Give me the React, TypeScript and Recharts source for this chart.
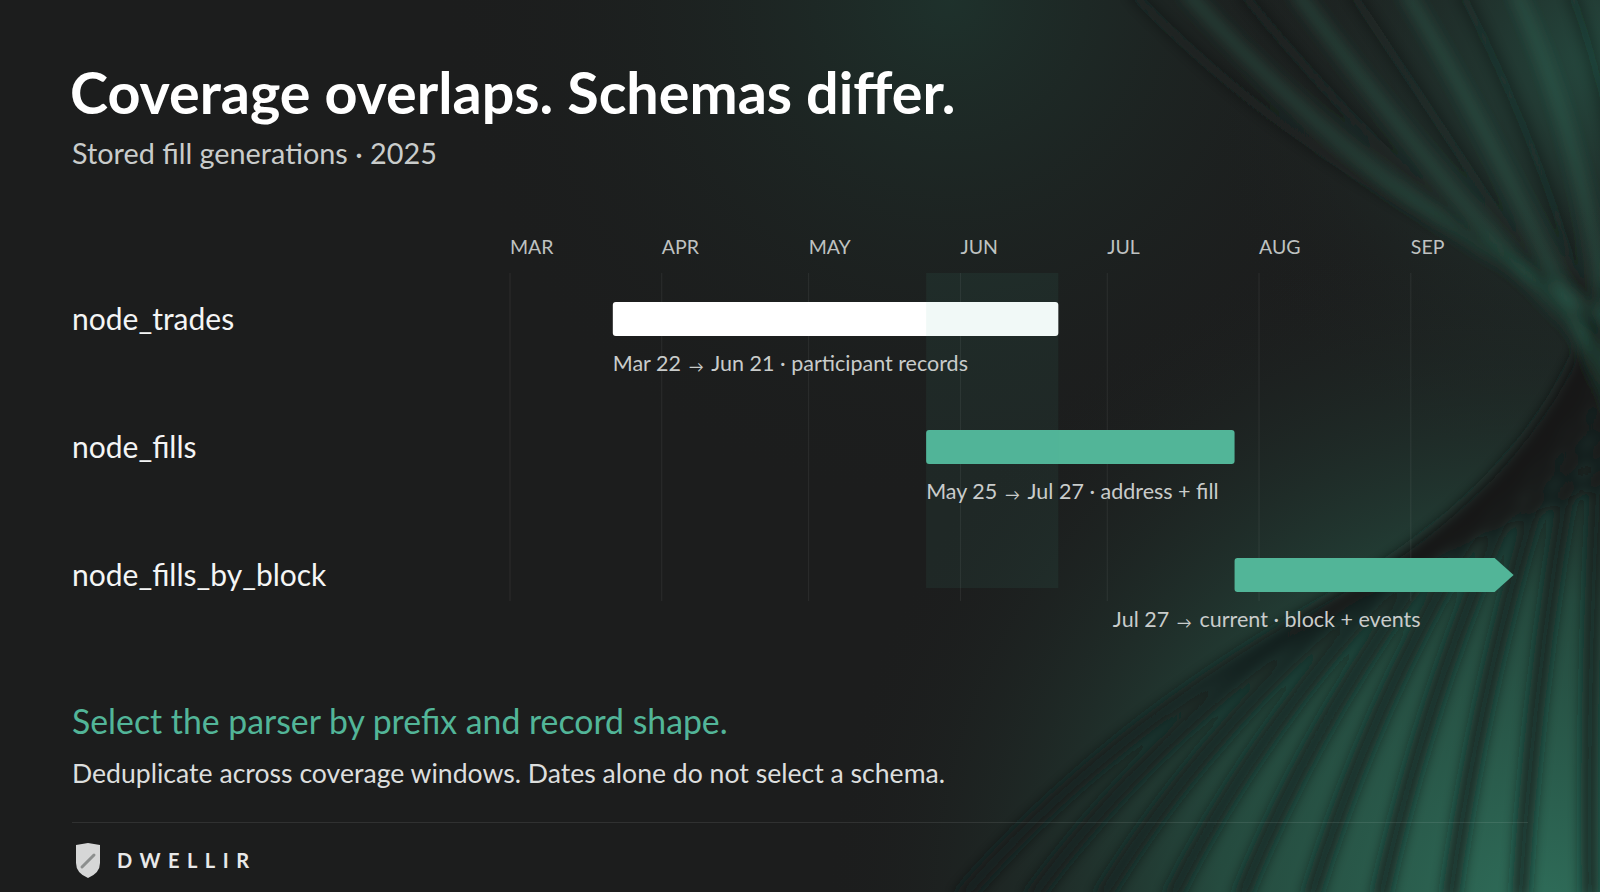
import React from "react";
import {
  BarChart,
  Bar,
  XAxis,
  YAxis,
  CartesianGrid,
  ReferenceArea,
  LabelList,
  Cell,
} from "recharts";

// day-of-year (0 = Jan 1, 2025)
const rowNames = ["node_trades", "node_fills", "node_fills_by_block"];
const startDays = [80, 144, 207]; // Mar 22, May 25, Jul 27
const endDays = [171, 207, 264]; // Jun 21, Jul 27, current
const fromLabels = ["Mar 22", "May 25", "Jul 27"];
const toLabels = ["Jun 21", "Jul 27", "current"];
const schemaNotes = ["participant records", "address + fill", "block + events"];
const ongoing = [false, false, true];
const barColors = ["#ffffff", "#52b598", "#52b598"];

const monthTicks = [59, 90, 120, 151, 181, 212, 243];
const monthLabels = ["MAR", "APR", "MAY", "JUN", "JUL", "AUG", "SEP"];

// overlap window: node_fills starts before node_trades ends
const overlapStart = 144;
const overlapEnd = 171;

const FONT = "Lato, 'Noto Sans', sans-serif";
const TEAL = "#52b598";

const data = rowNames.map((name, i) => ({
  name,
  range: [startDays[i], endDays[i]],
  from: fromLabels[i],
  to: toLabels[i],
  note: schemaNotes[i],
  ongoing: ongoing[i],
}));

const BarShape = (props: any) => {
  const { x, y, width, height, fill, payload } = props;
  const r = 3;
  if (payload && payload.ongoing) {
    const head = 19;
    const bodyEnd = x + width - head;
    const d = `M${x + r},${y} L${bodyEnd},${y} L${x + width},${y + height / 2} L${bodyEnd},${y + height} L${x + r},${y + height} Q${x},${y + height} ${x},${y + height - r} L${x},${y + r} Q${x},${y} ${x + r},${y} Z`;
    return <path d={d} fill={fill} />;
  }
  return <rect x={x} y={y} width={width} height={height} rx={r} ry={r} fill={fill} />;
};

const renderNote = (props: any) => {
  const { x, y, width, height, index } = props;
  const row = data[index];
  if (!row) return null;
  // the open-ended row is pulled back so its note stays inside the frame
  const tx = row.ongoing ? x + width - 93 : x;
  return (
    <text
      x={tx}
      y={y + height + 27}
      textAnchor={row.ongoing ? "end" : "start"}
      dominantBaseline="central"
      fill="#c9cccb"
      fontSize={21.5}
      fontFamily={FONT}
    >
      {row.from}
      <tspan fontSize={15} dy={3}>{"\u00a0\u00a0→\u00a0\u00a0"}</tspan>
      <tspan dy={-3}>{row.to} · {row.note}</tspan>
    </text>
  );
};

const MonthTick = (props: any) => {
  const { x, y, payload } = props;
  const i = monthTicks.indexOf(payload.value);
  if (i < 0) return null;
  return (
    <text
      x={x}
      y={y - 1}
      textAnchor="start"
      dominantBaseline="central"
      fill="#bfc2c1"
      fontSize={19.5}
      fontFamily={FONT}
    >
      {monthLabels[i]}
    </text>
  );
};

const RowTick = (props: any) => {
  const { y, payload } = props;
  return (
    <text
      x={72}
      y={y - 1}
      textAnchor="start"
      dominantBaseline="central"
      fill="#f4f5f5"
      fontSize={30}
      fontFamily={FONT}
    >
      {payload.value}
    </text>
  );
};

const GridLine = (props: any) => {
  const { x1, x2, y1, y2, index } = props;
  if (index >= monthTicks.length) return null;
  return (
    <line
      x1={x1}
      x2={x2}
      y1={y1 + 18}
      y2={y2 - 38}
      stroke="rgba(255,255,255,0.07)"
      strokeWidth={1}
    />
  );
};

const OverlapShape = (props: any) => {
  const { x, y, width, height } = props;
  return (
    <rect
      x={x}
      y={y + 18}
      width={width}
      height={height - 69}
      fill="#4fb39a"
      fillOpacity={0.08}
    />
  );
};

const Background = () => {
  const bands = [0, 1, 2, 3, 4, 5, 6, 7, 8, 9];
  return (
    <svg width={1600} height={892} style={{ position: "absolute", left: 0, top: 0 }}>
      <defs>
        <radialGradient id="glowBR" cx="1540" cy="920" r="720" gradientUnits="userSpaceOnUse">
          <stop offset="0" stopColor="#2f6e5a" stopOpacity={1} />
          <stop offset="0.45" stopColor="#285a4a" stopOpacity={0.75} />
          <stop offset="1" stopColor="#1c1d1d" stopOpacity={0} />
        </radialGradient>
        <radialGradient id="glowTR" cx="1600" cy="60" r="420" gradientUnits="userSpaceOnUse">
          <stop offset="0" stopColor="#28584a" stopOpacity={0.75} />
          <stop offset="1" stopColor="#1c1d1d" stopOpacity={0} />
        </radialGradient>
        <radialGradient id="glowT" cx="950" cy="0" r="520" gradientUnits="userSpaceOnUse">
          <stop offset="0" stopColor="#1f3a32" stopOpacity={0.7} />
          <stop offset="1" stopColor="#1c1d1d" stopOpacity={0} />
        </radialGradient>
        <filter id="blur" x="-20%" y="-20%" width="140%" height="140%">
          <feGaussianBlur stdDeviation="7" />
        </filter>
      </defs>
      <rect width={1600} height={892} fill="#1c1d1d" />
      <rect width={1600} height={892} fill="url(#glowT)" />
      <rect width={1600} height={892} fill="url(#glowTR)" />
      <rect width={1600} height={892} fill="url(#glowBR)" />
      <g filter="url(#blur)">
        {bands.map((i) => (
          <path
            key={`b${i}`}
            d={`M${960 + i * 70},900 Q${1180 + i * 45},${640 - i * 10} ${1620},${470 - i * 30}`}
            stroke="#161a19"
            strokeOpacity={0.75}
            strokeWidth={16}
            fill="none"
          />
        ))}
        {bands.map((i) => (
          <path
            key={`t${i}`}
            d={`M${1130 + i * 55},-10 Q${1330 + i * 40},${200} ${1620},${300 + i * 25}`}
            stroke={i % 2 ? "#347a63" : "#121615"}
            strokeOpacity={0.4}
            strokeWidth={10}
            fill="none"
          />
        ))}
      </g>
    </svg>
  );
};

const Shield = () => (
  <svg width={30} height={36} viewBox="0 0 30 36" style={{ position: "absolute", left: 73, top: 843 }}>
    <path d="M3,2 L15,0 L27,2 L27,20 Q27,30 15,35 Q3,30 3,20 Z" fill="#d6d7d7" />
    <path d="M9,24 L21,12" stroke="#8c8f8e" strokeWidth={3} strokeLinecap="round" />
  </svg>
);

export default function App() {
  return (
    <div
      style={{
        position: "absolute",
        left: 0,
        top: 0,
        width: 1600,
        height: 892,
        overflow: "hidden",
        fontFamily: FONT,
      }}
    >
      <style>{`body{margin:0;background:#1c1d1d;}`}</style>
      <Background />

      <div style={{ position: "absolute", left: 70, top: 59, fontSize: 57.5, lineHeight: "66px", fontWeight: 700, color: "#ffffff", whiteSpace: "nowrap" }}>
        Coverage overlaps. Schemas differ.
      </div>
      <div style={{ position: "absolute", left: 72, top: 137, fontSize: 28.8, lineHeight: "32px", color: "#c9cccb", whiteSpace: "nowrap" }}>
        Stored fill generations · 2025
      </div>

      <div style={{ position: "absolute", left: 0, top: 0 }}>
        <BarChart
          width={1600}
          height={892}
          data={data}
          layout="vertical"
          margin={{ top: 215, right: 57, left: 0, bottom: 253 }}
          barSize={34}
        >
          <CartesianGrid horizontal={false} vertical={GridLine} />
          <XAxis
            type="number"
            orientation="top"
            domain={[59, 270]}
            ticks={monthTicks}
            allowDataOverflow
            axisLine={false}
            tickLine={false}
            height={40}
            tick={<MonthTick />}
            interval={0}
          />
          <YAxis
            type="category"
            dataKey="name"
            width={510}
            axisLine={false}
            tickLine={false}
            tick={<RowTick />}
            interval={0}
          />
          <Bar dataKey="range" shape={BarShape} isAnimationActive={false}>
            {data.map((d, i) => (
              <Cell key={d.name} fill={barColors[i]} />
            ))}
            <LabelList dataKey="note" content={renderNote} />
          </Bar>
          <ReferenceArea x1={overlapStart} x2={overlapEnd} shape={OverlapShape} zIndex={1000} />
        </BarChart>
      </div>

      <div style={{ position: "absolute", left: 72, top: 702, fontSize: 33.8, lineHeight: "38px", color: TEAL, whiteSpace: "nowrap" }}>
        Select the parser by prefix and record shape.
      </div>
      <div style={{ position: "absolute", left: 72, top: 758, fontSize: 26.6, lineHeight: "30px", color: "#dcdedd", whiteSpace: "nowrap" }}>
        Deduplicate across coverage windows. Dates alone do not select a schema.
      </div>
      <div style={{ position: "absolute", left: 72, top: 822, width: 1456, height: 1, background: "rgba(255,255,255,0.09)" }} />
      <Shield />
      <div style={{ position: "absolute", left: 117, top: 848, fontSize: 20, lineHeight: "24px", fontWeight: 700, letterSpacing: "7.5px", color: "#e8e9e9", whiteSpace: "nowrap" }}>
        DWELLIR
      </div>
    </div>
  );
}
